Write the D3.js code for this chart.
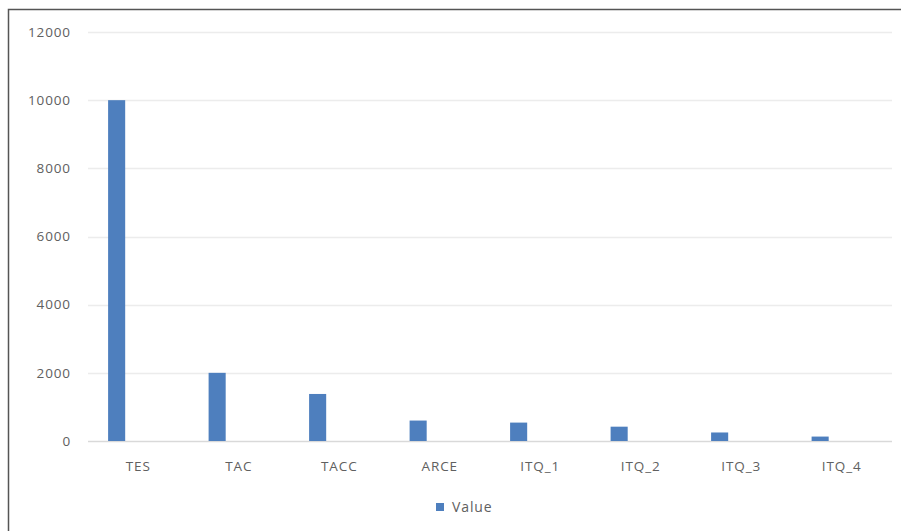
<!DOCTYPE html>
<html>
<head>
<meta charset="utf-8">
<script src="https://cdn.jsdelivr.net/npm/d3@7"></script>
<style>
  body { margin: 0; background: #fff; }
  text { font-family: "Open Sans", "Noto Sans", sans-serif; letter-spacing: 0.9px; }
</style>
</head>
<body>
<div id="chart"></div>
<script>
var categories = ["TES", "TAC", "TACC", "ARCE", "ITQ_1", "ITQ_2", "ITQ_3", "ITQ_4"];
var values = [10000, 2000, 1380, 600, 540, 420, 250, 130];
var yTicks = [0, 2000, 4000, 6000, 8000, 10000, 12000];
var seriesName = "Value";

var width = 901, height = 531;
var margin = {top: 32, right: 9, bottom: 90, left: 88};

var svg = d3.select("#chart").append("svg")
    .attr("width", width)
    .attr("height", height);

// outer frame (cropped on right and bottom)
svg.append("rect")
    .attr("x", 8.5).attr("y", 9.5)
    .attr("width", width + 20).attr("height", height + 20)
    .attr("fill", "none")
    .attr("stroke", "#555")
    .attr("stroke-width", 1.5);

var x = d3.scaleBand()
    .domain(categories)
    .range([margin.left, width - margin.right]);

var y = d3.scaleLinear()
    .domain([0, 12000])
    .range([height - margin.bottom, margin.top]);

// gridlines
svg.append("g")
    .selectAll("line")
    .data(yTicks)
    .enter().append("line")
    .attr("x1", margin.left)
    .attr("x2", width - margin.right)
    .attr("y1", function (d) { return Math.round(y(d)) + 0.5; })
    .attr("y2", function (d) { return Math.round(y(d)) + 0.5; })
    .attr("stroke", function (d) { return d === 0 ? "#d9d9d9" : "#ececec"; })
    .attr("stroke-width", 1.3);

// y tick labels
svg.append("g")
    .selectAll("text")
    .data(yTicks)
    .enter().append("text")
    .attr("x", 71)
    .attr("y", function (d) { return y(d); })
    .attr("dy", "0.35em")
    .attr("text-anchor", "end")
    .attr("font-size", "13.5px")
    .attr("fill", "#606060")
    .text(function (d) { return d; });

// bars (first of two slots in each category, like the original)
var bw = x.bandwidth();
svg.append("g")
    .selectAll("rect")
    .data(values)
    .enter().append("rect")
    .attr("x", function (d, i) { return x(categories[i]) + bw * 0.2; })
    .attr("width", bw * 0.17)
    .attr("y", function (d) { return y(d); })
    .attr("height", function (d) { return y(0) - y(d); })
    .attr("fill", "#4e7fbe");

// category labels
svg.append("g")
    .selectAll("text")
    .data(categories)
    .enter().append("text")
    .attr("x", function (d) { return x(d) + bw / 2; })
    .attr("y", 466)
    .attr("dy", "0.35em")
    .attr("text-anchor", "middle")
    .attr("font-size", "13.5px")
    .attr("fill", "#606060")
    .text(function (d) { return d; });

// legend
var legend = svg.append("g");
legend.append("rect")
    .attr("x", 436).attr("y", 503)
    .attr("width", 8).attr("height", 8)
    .attr("fill", "#4e7fbe");
legend.append("text")
    .attr("x", 452).attr("y", 507)
    .attr("dy", "0.35em")
    .attr("font-size", "14px")
    .attr("fill", "#606060")
    .text(seriesName);
</script>
</body>
</html>
